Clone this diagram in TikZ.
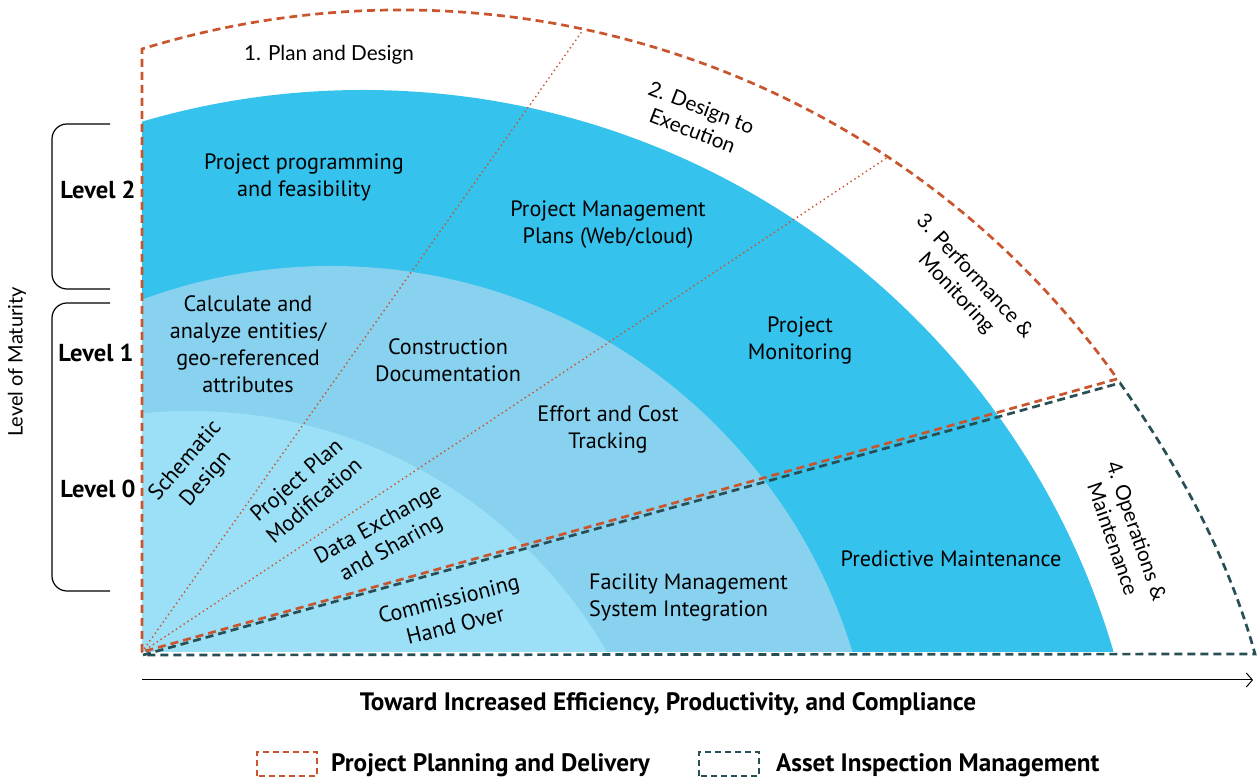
\documentclass[tikz,border=0pt]{standalone}
\usepackage{fontspec}
\setmainfont{PT Sans}
\newfontfamily\latof{Lato}
\usetikzlibrary{arrows.meta}
\definecolor{dblue}{RGB}{53,194,236}
\definecolor{mblue}{RGB}{136,210,240}
\definecolor{lblue}{RGB}{155,224,246}
\definecolor{rust}{RGB}{200,85,45}
\definecolor{tealc}{RGB}{40,78,86}
\begin{document}
\begin{tikzpicture}[x=1pt,y=1pt,
  lbl/.style={inner sep=0pt, align=center, font=\fontsize{22.2}{27}\selectfont},
  phase/.style={inner sep=0pt, align=center, font=\latof\fontsize{20.7}{25}\selectfont},
  lvl/.style={inner sep=0pt, font=\bfseries\fontsize{24.5}{28}\selectfont},
  bold/.style={inner sep=0pt, font=\bfseries\fontsize{25.2}{28}\selectfont},
  rustdash/.style={draw=rust, line width=2.7pt, dash pattern=on 8pt off 5pt},
  tealdash/.style={draw=tealc, line width=2.7pt, dash pattern=on 8pt off 5pt},
  rustdot/.style={draw=rust, line width=2pt, dash pattern=on 0pt off 4.6pt, line cap=round},
  brk/.style={draw=black, line width=1.2pt, rounded corners=15pt}]
\useasboundingbox (0,0) rectangle (1257,778);
% origin
\coordinate (O) at (142,126);
% coloured rings
\begin{scope}
  \clip (142,126) rectangle (1257,778);
  \fill[dblue] (363,-94) circle[radius=782];
  \fill[mblue] (331,-33) circle[radius=545];
  \fill[lblue] (190,-114) circle[radius=481];
\end{scope}
% dotted dividers
\coordinate (D1) at (583,748);
\coordinate (D2) at (888,621);
\draw[rustdot] (O) -- (D1);
\draw[rustdot] (O) -- (D2);
% teal outline (asset inspection)
\coordinate (T0) at (143,123);
\coordinate (T1) at (1120,395);
\coordinate (T2) at (1255,124);
\draw[tealdash] (T0) -- (T1) .. controls (1179,311) and (1228,222) .. (T2) -- cycle;
% orange outline (project planning)
\coordinate (P1) at (142,729);
\draw[rustdash] (O) -- (P1) arc[start angle=107.12, end angle=35.51, radius=880] -- cycle;
% brackets
\draw[brk] (110,654) -- (52,654) -- (52,489) -- (110,489);
\draw[brk] (110,475) -- (52,475) -- (52,187) -- (110,187);
% axis
\coordinate (A0) at (142,98);
\coordinate (A1) at (1253,98);
\draw[line width=1pt, -{Straight Barb[length=6pt,width=14pt]}] (A0) -- (A1);
% labels
\node[phase, rotate=90, font=\latof\fontsize{20}{24}\selectfont] (mat) at (17,416) {Level of Maturity};
\node[lvl] (l2) at (98,588) {Level 2};
\node[lvl] (l1) at (96,425) {Level 1};
\node[lvl] (l0) at (98,289) {Level 0};
\node[phase] (ph1) at (329,723) {1. Plan and Design};
\node[phase, rotate=-21] (ph2) at (697,659) {2. Design to\\Execution};
\node[phase, rotate=-47] (ph3) at (965,493) {3. Performance \&\\Monitoring};
\node[phase, rotate=-71] (ph4) at (1125,243) {4. Operations \&\\Maintenance};
\node[lbl] (pf) at (304,601) {Project programming\\and feasibility};
\node[lbl] (pmp) at (608,553) {Project Management\\Plans (Web/cloud)};
\node[lbl] (calc) at (248,434) {Calculate and\\analyze entities/\\geo-referenced\\attributes};
\node[lbl] (cd) at (448,418) {Construction\\Documentation};
\node[lbl] (pm) at (800,437) {Project\\Monitoring};
\node[lbl] (ec) at (608,349) {Effort and Cost\\Tracking};
\node[lbl, rotate=49] (sd) at (196,308) {Schematic\\Design};
\node[lbl, rotate=41] (ppm) at (305,288) {Project Plan\\Modification};
\node[lbl, rotate=29] (des) at (385,241) {Data Exchange\\and Sharing};
\node[lbl, rotate=14] (cho) at (452,166) {Commissioning\\Hand Over};
\node[lbl, align=left, anchor=west] (fms) at (589,181) {Facility Management\\System Integration};
\node[lbl] (pdm) at (951,219) {Predictive Maintenance};
\node[bold] (ax) at (668,74) {Toward Increased Efficiency, Productivity, and Compliance};
% legend
\draw[rustdash, line width=2pt, dash pattern=on 6pt off 4pt] (257,2) rectangle (317,26);
\draw[tealdash, line width=2pt, dash pattern=on 6pt off 4pt] (699,2) rectangle (759,26);
\node[bold, anchor=west] (lg1) at (331,13) {Project Planning and Delivery};
\node[bold, anchor=west] (lg2) at (776,13) {Asset Inspection Management};
\end{tikzpicture}
\end{document}
